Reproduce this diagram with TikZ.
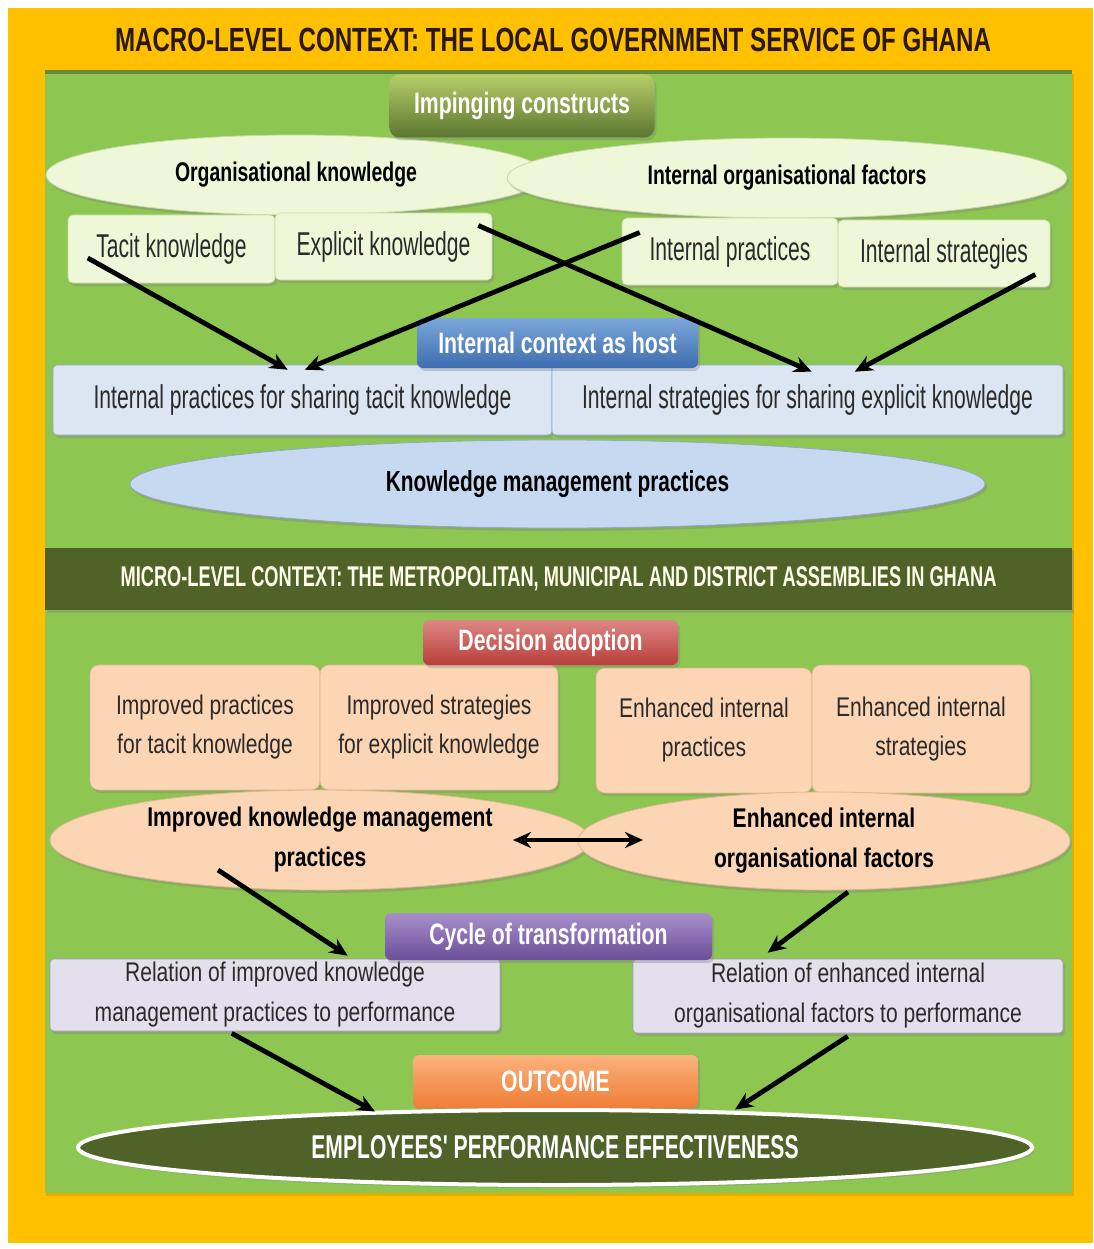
\documentclass[tikz,border=0pt]{standalone}
\usepackage{fontspec}
\setmainfont{Liberation Sans}
\newfontfamily\fA{Liberation Sans}[FakeStretch=0.64]
\newfontfamily\fB{Liberation Sans}[FakeStretch=0.72]
\newfontfamily\fC{Liberation Sans}[FakeStretch=0.78]
\usetikzlibrary{shapes.geometric,arrows.meta,shadows,calc}

\definecolor{frameorange}{HTML}{FFC000}
\definecolor{fieldgreen}{HTML}{8DC651}
\definecolor{bandgreen}{HTML}{4F6228}
\definecolor{cream}{HTML}{EFF7D9}
\definecolor{creamedge}{HTML}{C9D9A8}
\definecolor{paleblue}{HTML}{DCE6F2}
\definecolor{kmblue}{HTML}{C6D9F1}
\definecolor{blueedge}{HTML}{8EA9D0}
\definecolor{peach}{HTML}{FCD5B4}
\definecolor{peachedge}{HTML}{E3B58E}
\definecolor{lavender}{HTML}{E4DFEC}
\definecolor{lavedge}{HTML}{A99BC2}
\definecolor{boxtext}{HTML}{2A2A2A}
\definecolor{titletext}{HTML}{2A1800}

\tikzset{
  base/.style={inner sep=0pt, align=center},
  softshadow/.style={drop shadow={shadow xshift=2pt, shadow yshift=-3pt, opacity=0.35}},
  lbox/.style={base, rectangle, rounded corners=5pt, fill=cream, draw=creamedge,
    line width=0.6pt, softshadow, text=boxtext, font=\fA\fontsize{33}{38}\selectfont},
  bbox/.style={lbox, fill=paleblue, draw=blueedge, rounded corners=4pt},
  pbox/.style={lbox, fill=peach, draw=peachedge, rounded corners=9pt,
    font=\fC\fontsize{27}{39}\selectfont},
  vbox/.style={lbox, fill=lavender, draw=lavedge, rounded corners=4pt,
    font=\fC\fontsize{27}{40}\selectfont},
  oval/.style={base, ellipse, fill=cream, draw=creamedge, line width=0.8pt, softshadow,
    text=black, font=\fB\bfseries\fontsize{27}{32}\selectfont},
  hdr/.style={base, rectangle, rounded corners=6pt, text=white, softshadow,
    font=\fB\bfseries\fontsize{29.5}{34}\selectfont},
  arw/.style={line width=4.8pt, black, -{Stealth[length=18pt,width=16pt]}},
  dblarw/.style={line width=4.8pt, black, {Stealth[length=18pt,width=16pt]}-{Stealth[length=18pt,width=16pt]}}
}

\begin{document}
\begin{tikzpicture}[x=1pt,y=-1pt]
\useasboundingbox (0,0) rectangle (1093,1249);
\fill[white] (0,0) rectangle (1093,1249);
\fill[frameorange] (8,8) rectangle (1093,1243);

% macro-level title
\node[base, text=titletext, font=\fB\bfseries\fontsize{33.5}{38}\selectfont] (title) at (553,40)
  {MACRO-LEVEL CONTEXT: THE LOCAL GOVERNMENT SERVICE OF GHANA};

% green field with a soft edge
\fill[black, opacity=0.10] (46,74) rectangle (1074,1196);
\fill[bandgreen!60!fieldgreen] (45,70) rectangle (1072,1193);
\fill[fieldgreen] (45,74) rectangle (1072,1193);

% ---------------- macro level ----------------
\node[oval, minimum width=500pt, minimum height=80pt] (orgk) at (296,175) {Organisational knowledge};
\node[oval, minimum width=560pt, minimum height=80pt] (iof) at (787,178) {Internal organisational factors};

\node[hdr, rounded corners=10pt, top color=olive!35!white!60!fieldgreen, bottom color=bandgreen!80!fieldgreen,
  minimum width=265pt, minimum height=63pt] (imp) at (522,106) {Impinging constructs};

\node[lbox, minimum width=207pt, minimum height=68pt] (tacit) at (171.5,249) {Tacit knowledge};
\node[lbox, minimum width=217pt, minimum height=67pt] (expl) at (383.5,246.5) {Explicit knowledge};
\node[lbox, minimum width=216pt, minimum height=67pt] (iprac) at (730,251.5) {Internal practices};
\node[lbox, minimum width=212pt, minimum height=67pt] (istrat) at (944,253.5) {Internal strategies};

\node[bbox, minimum width=499pt, minimum height=70pt] (ipt) at (302.5,400) {Internal practices for sharing tacit knowledge};
\node[bbox, minimum width=511pt, minimum height=70pt] (ise) at (807.5,400) {Internal strategies for sharing explicit knowledge};

\node[hdr, top color={rgb,255:red,123;green,167;blue,217}, bottom color={rgb,255:red,62;green,109;blue,175},
  minimum width=281pt, minimum height=50pt] (host) at (557.5,343) {Internal context as host};

\node[oval, fill=kmblue, draw=blueedge, minimum width=855pt, minimum height=88pt,
  font=\fB\bfseries\fontsize{29}{34}\selectfont] (km) at (557.5,484) {Knowledge management practices};

\draw[arw] ($(tacit.west)+(20,9)$) -- ($(ipt.north west)+(235,5)$);
\draw[arw] ($(iprac.west)+(18,-19)$) -- ($(ipt.north west)+(252,5)$);
\draw[arw] ($(expl.east)+(-14,-21)$) -- ($(ise.north west)+(260,7)$);
\draw[arw] ($(istrat.east)+(-15,21)$) -- ($(ise.north west)+(303,7)$);

% ---------------- micro level ----------------
\node[base, rectangle, fill=bandgreen, minimum width=1027pt, minimum height=62pt, softshadow,
  text=white!92!yellow, font=\fA\bfseries\fontsize{28.5}{32}\selectfont] (band) at (558.5,579)
  {MICRO-LEVEL CONTEXT: THE METROPOLITAN, MUNICIPAL AND DISTRICT ASSEMBLIES IN GHANA};

\node[pbox, minimum width=230pt, minimum height=125pt] (ipk) at (205,727.5) {Improved practices\\for tacit knowledge};
\node[pbox, minimum width=238pt, minimum height=125pt] (isk) at (439,727.5) {Improved strategies\\for explicit knowledge};
\node[pbox, minimum width=216pt, minimum height=125pt] (eip) at (704,730.5) {Enhanced internal\\practices};
\node[pbox, minimum width=218pt, minimum height=128pt] (eis) at (921,729) {Enhanced internal\\strategies};

\node[hdr, top color={rgb,255:red,221;green,135;blue,132}, bottom color={rgb,255:red,184;green,62;blue,58},
  minimum width=255pt, minimum height=45pt] (dec) at (550.5,642.5) {Decision adoption};

\node[oval, fill=peach, draw=peachedge, minimum width=540pt, minimum height=100pt,
  font=\fC\bfseries\fontsize{27}{40}\selectfont] (ikm) at (320,840) {Improved knowledge management\\practices};
\node[oval, fill=peach, draw=peachedge, minimum width=492pt, minimum height=98pt,
  font=\fC\bfseries\fontsize{27}{40}\selectfont] (eiof) at (824,841) {Enhanced internal\\organisational factors};

\draw[dblarw] ($(ikm.center)+(193,0)$) -- ($(eiof.center)+(-181,-1)$);

\node[vbox, minimum width=450pt, minimum height=72pt] (rkm) at (275,995)
  {Relation of improved knowledge\\management practices to performance};
\node[vbox, minimum width=430pt, minimum height=74pt] (riof) at (848,996)
  {Relation of enhanced internal\\organisational factors to performance};

\node[hdr, top color={rgb,255:red,168;green,144;blue,203}, bottom color={rgb,255:red,106;green,78;blue,152},
  minimum width=327pt, minimum height=47pt] (cyc) at (548.5,936.5) {Cycle of transformation};

\draw[arw] ($(ikm.center)+(-102,30)$) -- ($(rkm.north west)+(298,-3)$);
\draw[arw] ($(eiof.center)+(24,51)$) -- ($(riof.north west)+(135,-6)$);

\node[hdr, top color={rgb,255:red,251;green,178;blue,124}, bottom color={rgb,255:red,240;green,125;blue,55},
  minimum width=285pt, minimum height=53pt] (out) at (555.5,1081.5) {OUTCOME};

\node[base, ellipse, fill=bandgreen, draw=white, line width=4pt, softshadow,
  minimum width=954pt, minimum height=75pt, text=white,
  font=\fA\bfseries\fontsize{33}{38}\selectfont] (epe) at (555,1147.5) {EMPLOYEES' PERFORMANCE EFFECTIVENESS};

\draw[arw] ($(rkm.south west)+(182,2)$) -- ($(epe.center)+(-180,-36)$);
\draw[arw] ($(riof.south west)+(215,3)$) -- ($(epe.center)+(180,-38)$);
\end{tikzpicture}
\end{document}
